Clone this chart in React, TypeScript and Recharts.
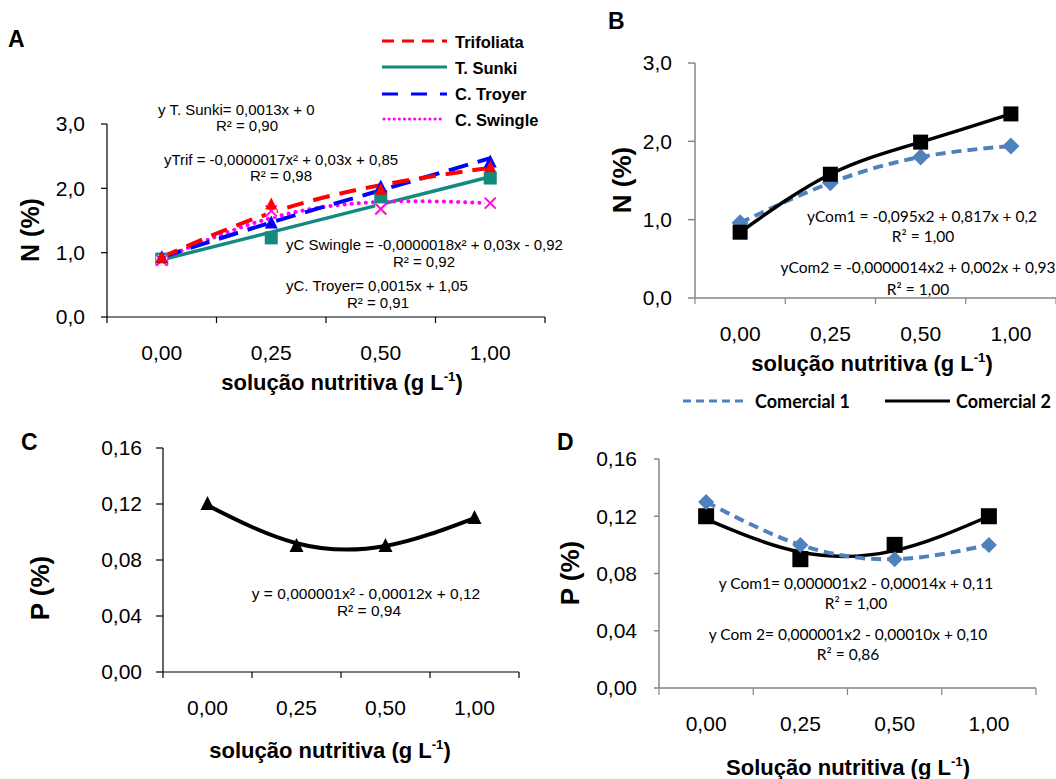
import React from 'react';
import { ComposedChart, Line, XAxis, YAxis } from 'recharts';

const categories = ['0,00', '0,25', '0,50', '1,00'];

const trifoliata = [0.92, 1.75, 1.98, 2.33];
const trifoliataFit = [0.93, 1.62, 2.05, 2.32];
const sunki = [0.9, 1.23, 1.87, 2.16];
const sunkiFit = [0.89, 1.32, 1.75, 2.18];
const troyer = [0.92, 1.46, 2.02, 2.41];
const troyerFit = [0.93, 1.47, 1.97, 2.47];
const swingle = [0.88, 1.65, 1.68, 1.77];
const swingleFit = [0.9, 1.54, 1.79, 1.77];

// B - N (%) substratos comerciais
const comercial1N = [0.96, 1.47, 1.8, 1.94];
const comercial2N = [0.84, 1.58, 1.99, 2.35];

// C - P (%)
const fosforo = [0.12, 0.09, 0.09, 0.11];
const fosforoFit = [0.119, 0.092, 0.09, 0.11];

// D - P (%) substratos comerciais
const comercial1P = [0.13, 0.1, 0.09, 0.1];
const comercial2P = [0.12, 0.09, 0.1, 0.12];
const comercial2PFit = [0.118, 0.095, 0.096, 0.12];

const nTicks = [0, 1, 2, 3];
const pTicks = [0, 0.04, 0.08, 0.12, 0.16];
// category boundaries (integers) and centres (halves)
const xTicks = [0, 0.5, 1, 1.5, 2, 2.5, 3, 3.5, 4];

const W = 1056;
const H = 779;
const ARIAL = '"Liberation Sans", Arial, sans-serif';
const CALIBRI = 'Lato, "Open Sans", sans-serif';
const GRAY = '#868686';

const rowsA = categories.map((c, i) => ({
  x: i + 0.5,
  trifoliata: trifoliata[i], trifoliataFit: trifoliataFit[i],
  sunki: sunki[i], sunkiFit: sunkiFit[i],
  troyer: troyer[i], troyerFit: troyerFit[i],
  swingle: swingle[i], swingleFit: swingleFit[i],
}));
const rowsB = categories.map((c, i) => ({ x: i + 0.5, com1: comercial1N[i], com2: comercial2N[i] }));
const rowsC = categories.map((c, i) => ({ x: i + 0.5, obs: fosforo[i], fit: fosforoFit[i] }));
const rowsD = categories.map((c, i) => ({ x: i + 0.5, com1: comercial1P[i], com2: comercial2P[i], com2Fit: comercial2PFit[i] }));

function CatTick(props: any) {
  const { x, y, payload, color, len, dy } = props;
  const v = payload.value;
  if (Number.isInteger(v)) {
    return <line x1={x} y1={y} x2={x} y2={y + len} stroke={color} strokeWidth={1.2} />;
  }
  return (
    <text x={x} y={y + dy} textAnchor="middle" dominantBaseline="central" fontSize={21} fontFamily={ARIAL} fill="#000">
      {categories[Math.floor(v)]}
    </text>
  );
}

const triangle = (fill: string, s: number) => (p: any) => (
  <path key={`t${p.index}`} d={`M${p.cx} ${p.cy - s * 0.58}L${p.cx + s / 2} ${p.cy + s * 0.42}L${p.cx - s / 2} ${p.cy + s * 0.42}Z`} fill={fill} />
);
const square = (fill: string, s: number) => (p: any) => (
  <rect key={`s${p.index}`} x={p.cx - s / 2} y={p.cy - s / 2} width={s} height={s} fill={fill} />
);
const diamond = (fill: string, s: number) => (p: any) => (
  <path key={`d${p.index}`} d={`M${p.cx} ${p.cy - s / 2}L${p.cx + s / 2} ${p.cy}L${p.cx} ${p.cy + s / 2}L${p.cx - s / 2} ${p.cy}Z`} fill={fill} />
);
const cross = (stroke: string, s: number) => (p: any) => (
  <g key={`x${p.index}`}>
    <rect x={p.cx - s / 2} y={p.cy - s / 2} width={s} height={s} fill="#FFFFCC" />
    <path d={`M${p.cx - s / 2} ${p.cy - s / 2}L${p.cx + s / 2} ${p.cy + s / 2}M${p.cx + s / 2} ${p.cy - s / 2}L${p.cx - s / 2} ${p.cy + s / 2}`} stroke={stroke} strokeWidth={2} />
  </g>
);

function axes(o: { color: string; width: number; domain: number[]; ticks: number[]; digits: number; tickSize: number; tickMargin: number; xLen: number }) {
  return [
    <XAxis
      key="x"
      type="number"
      dataKey="x"
      domain={[0, 4]}
      ticks={xTicks}
      interval={0}
      height={1}
      tickSize={0}
      tickMargin={0}
      tickLine={false}
      axisLine={{ stroke: o.color, strokeWidth: o.width }}
      tick={<CatTick color={o.color} len={o.xLen} dy={35} />}
    />,
    <YAxis
      key="y"
      type="number"
      domain={o.domain}
      ticks={o.ticks}
      interval={0}
      width={1}
      tickSize={o.tickSize}
      tickMargin={o.tickMargin}
      axisLine={{ stroke: o.color, strokeWidth: o.width }}
      tickLine={{ stroke: o.color, strokeWidth: o.width }}
      tick={{ fill: '#000', fontSize: 21, fontFamily: ARIAL }}
      tickFormatter={(v: number) => v.toFixed(o.digits).replace('.', ',')}
    />,
  ];
}

// plot box in page pixels -> chart margins (axes take 1px each)
function box(l: number, t: number, r: number, b: number) {
  return { left: l - 1, top: t, right: W - r, bottom: H - b - 1 };
}

const Txt = ({ x, y, children, size = 15, bold = false, font = ARIAL, left = false, rotate = false }: any) => (
  <div
    style={{
      position: 'absolute', left: x, top: y,
      transform: `translate(${left ? '0' : '-50%'},-50%)${rotate ? ' rotate(-90deg)' : ''}`,
      fontSize: size, fontWeight: bold ? 700 : 400, fontFamily: font,
      whiteSpace: 'nowrap', lineHeight: 1, color: '#000',
    }}
  >
    {children}
  </div>
);

const Sup = ({ children }: any) => <sup style={{ fontSize: '0.6em', verticalAlign: '0.7em' }}>{children}</sup>;

const LegendLine = ({ x, y, w, color, dash, width = 3, cap = 'butt' }: any) => (
  <svg style={{ position: 'absolute', left: x, top: y - 5 }} width={w} height={10}>
    <line x1={cap === 'round' ? 2 : 0} y1={5} x2={w - (cap === 'round' ? 2 : 0)} y2={5} stroke={color} strokeWidth={width} strokeDasharray={dash} strokeLinecap={cap} />
  </svg>
);

const layer: React.CSSProperties = { position: 'absolute', left: 0, top: 0 };

export default function App() {
  return (
    <div style={{ position: 'absolute', left: 0, top: 0, width: W, height: H, background: '#fff', overflow: 'hidden' }}>
      {/* A */}
      <div style={layer}>
        <ComposedChart width={W} height={H} data={rowsA} margin={box(107, 124, 545, 317)}>
          {axes({ color: '#000', width: 1.2, domain: [0, 3], ticks: nTicks, digits: 1, tickSize: 6, tickMargin: 16, xLen: 6 })}
          <Line dataKey="sunki" stroke="none" dot={square('#138A80', 13)} activeDot={false} isAnimationActive={false} />
          <Line dataKey="swingle" stroke="none" dot={cross('#FF00FF', 11)} activeDot={false} isAnimationActive={false} />
          <Line dataKey="troyer" stroke="none" dot={triangle('#0000FF', 13)} activeDot={false} isAnimationActive={false} />
          <Line dataKey="trifoliata" stroke="none" dot={triangle('#FF0000', 12)} activeDot={false} isAnimationActive={false} />
          <Line dataKey="sunkiFit" type="natural" stroke="#138A80" strokeWidth={3.5} dot={false} activeDot={false} isAnimationActive={false} />
          <Line dataKey="swingleFit" type="natural" stroke="#FF00FF" strokeWidth={4} strokeDasharray="0.1 7" strokeLinecap="round" dot={false} activeDot={false} isAnimationActive={false} />
          <Line dataKey="troyerFit" type="natural" stroke="#0000FF" strokeWidth={4} strokeDasharray="20 10" dot={false} activeDot={false} isAnimationActive={false} />
          <Line dataKey="trifoliataFit" type="natural" stroke="#FF0000" strokeWidth={4} strokeDasharray="17 10" dot={false} activeDot={false} isAnimationActive={false} />
        </ComposedChart>
      </div>

      {/* B */}
      <div style={layer}>
        <ComposedChart width={W} height={H} data={rowsB} margin={box(695, 63, 1056, 298)}>
          {axes({ color: GRAY, width: 1.5, domain: [0, 3], ticks: nTicks, digits: 1, tickSize: 7, tickMargin: 16, xLen: 6 })}
          <Line dataKey="com1" type="natural" stroke="#4F81BD" strokeWidth={4} strokeDasharray="10 6" dot={diamond('#4F81BD', 17)} activeDot={false} isAnimationActive={false} />
          <Line dataKey="com2" type="natural" stroke="#000" strokeWidth={3.5} dot={square('#000', 15)} activeDot={false} isAnimationActive={false} />
        </ComposedChart>
      </div>

      {/* C */}
      <div style={layer}>
        <ComposedChart width={W} height={H} data={rowsC} margin={box(163, 448, 519, 672)}>
          {axes({ color: '#000', width: 1.2, domain: [0, 0.16], ticks: pTicks, digits: 2, tickSize: 7, tickMargin: 14, xLen: 6 })}
          <Line dataKey="fit" type="natural" stroke="#000" strokeWidth={4} dot={false} activeDot={false} isAnimationActive={false} />
          <Line dataKey="obs" stroke="none" dot={triangle('#000', 14)} activeDot={false} isAnimationActive={false} />
        </ComposedChart>
      </div>

      {/* D */}
      <div style={layer}>
        <ComposedChart width={W} height={H} data={rowsD} margin={box(659, 459, 1036, 688)}>
          {axes({ color: GRAY, width: 1.5, domain: [0, 0.16], ticks: pTicks, digits: 2, tickSize: 5, tickMargin: 17, xLen: 7 })}
          <Line dataKey="com2" stroke="none" dot={square('#000', 16)} activeDot={false} isAnimationActive={false} />
          <Line dataKey="com2Fit" type="natural" stroke="#000" strokeWidth={3.5} dot={false} activeDot={false} isAnimationActive={false} />
          <Line dataKey="com1" type="natural" stroke="#4F81BD" strokeWidth={4} strokeDasharray="10 6" dot={diamond('#4F81BD', 16)} activeDot={false} isAnimationActive={false} />
        </ComposedChart>
      </div>

      {/* panel letters */}
      <Txt x={8} y={39} size={23} bold left>A</Txt>
      <Txt x={608} y={21} size={23} bold left>B</Txt>
      <Txt x={21} y={442} size={23} bold left>C</Txt>
      <Txt x={557} y={442} size={23} bold left>D</Txt>

      {/* axis titles */}
      <Txt x={30} y={230} size={25} bold rotate>N (%)</Txt>
      <Txt x={342} y={382} size={22} bold>solução nutritiva (g L<Sup>-1</Sup>)</Txt>
      <Txt x={622} y={180} size={26} bold rotate>N (%)</Txt>
      <Txt x={872} y={363} size={22} bold>solução nutritiva (g L<Sup>-1</Sup>)</Txt>
      <Txt x={40} y={588} size={26} bold rotate>P (%)</Txt>
      <Txt x={330} y={750} size={22} bold>solução nutritiva (g L<Sup>-1</Sup>)</Txt>
      <Txt x={570} y={573} size={26} bold rotate>P (%)</Txt>
      <Txt x={848} y={767} size={22} bold>Solução nutritiva (g L<Sup>-1</Sup>)</Txt>

      {/* legend A */}
      <LegendLine x={382} y={41} w={65} color="#FF0000" dash="12 8" />
      <LegendLine x={382} y={67} w={65} color="#138A80" />
      <LegendLine x={382} y={94} w={65} color="#0000FF" dash="16 13" />
      <LegendLine x={382} y={119} w={62} color="#FF00FF" dash="0.1 5" cap="round" />
      <Txt x={455} y={42} size={16.5} bold left>Trifoliata</Txt>
      <Txt x={455} y={68} size={16.5} bold left>T. Sunki</Txt>
      <Txt x={455} y={94} size={16.5} bold left>C. Troyer</Txt>
      <Txt x={455} y={120} size={16.5} bold left>C. Swingle</Txt>

      {/* legend B/D */}
      <LegendLine x={683} y={401} w={62} color="#4F81BD" dash="8 5" width={3} />
      <Txt x={755} y={401} size={18} bold font={CALIBRI} left>Comercial 1</Txt>
      <LegendLine x={885} y={401} w={65} color="#000" width={3} />
      <Txt x={956} y={401} size={18} bold font={CALIBRI} left>Comercial 2</Txt>

      {/* equations A */}
      <Txt x={158} y={109} left>y T. Sunki= 0,0013x + 0</Txt>
      <Txt x={247} y={125}>R² = 0,90</Txt>
      <Txt x={281} y={159}>yTrif = -0,0000017x² + 0,03x + 0,85</Txt>
      <Txt x={281} y={175}>R² = 0,98</Txt>
      <Txt x={286} y={244} left>yC Swingle = -0,0000018x² + 0,03x - 0,92</Txt>
      <Txt x={424} y={261}>R² = 0,92</Txt>
      <Txt x={286} y={285} left>yC. Troyer= 0,0015x +  1,05</Txt>
      <Txt x={378} y={302}>R² = 0,91</Txt>

      {/* equations B */}
      <Txt x={922} y={217} size={15.5} font={CALIBRI}>yCom1 = -0,095x2 + 0,817x + 0,2</Txt>
      <Txt x={923} y={237} size={15.5} font={CALIBRI}>R² = 1,00</Txt>
      <Txt x={918} y={268} size={15.5} font={CALIBRI}>yCom2 = -0,0000014x2 + 0,002x + 0,93</Txt>
      <Txt x={918} y={290} size={15.5} font={CALIBRI}>R² = 1,00</Txt>

      {/* equation C */}
      <Txt x={366} y={594} size={15.5}>y = 0,000001x² - 0,00012x + 0,12</Txt>
      <Txt x={369} y={611} size={15.5}>R² = 0,94</Txt>

      {/* equations D */}
      <Txt x={856} y={584} size={15.5} font={CALIBRI}>y Com1= 0,000001x2 - 0,00014x + 0,11</Txt>
      <Txt x={856} y={604} size={15.5} font={CALIBRI}>R² = 1,00</Txt>
      <Txt x={848} y={635} size={15.5} font={CALIBRI}>y Com 2= 0,000001x2 - 0,00010x + 0,10</Txt>
      <Txt x={848} y={655} size={15.5} font={CALIBRI}>R² = 0,86</Txt>
    </div>
  );
}
